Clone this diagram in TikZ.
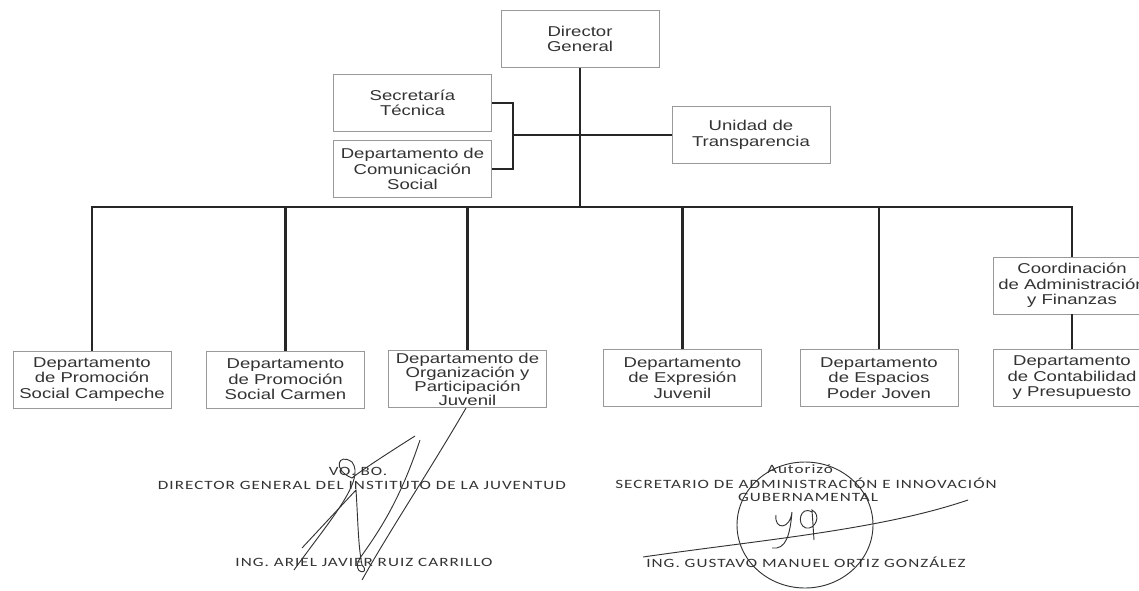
\documentclass[tikz,border=0pt]{standalone}
\usepackage{fontspec}
\setmainfont{Liberation Sans}[FakeStretch=1.3]
\newfontfamily\signfont{Carlito}[FakeStretch=1.35,LetterSpace=8]

\begin{document}
\begin{tikzpicture}[x=0.75pt, y=-0.75pt,
	unit/.style={draw=black!40, line width=0.6pt, fill=white, minimum width=118.5pt, minimum height=42.75pt, inner sep=1pt, align=center, text=black!80, font=\fontsize{10.7}{11.6}\selectfont},
	link/.style={line width=2.2pt, draw=black!85},
	sign/.style={text=black!80, inner sep=0pt, font=\signfont\fontsize{9.5}{10}\selectfont},
	scrawl/.style={draw=black!80, line width=0.7pt}]
	% page 1139 x 590 px
	\useasboundingbox (0,0) rectangle (1139,590);

	% top
	\node[unit] (dg) at (580,39) {Director\\General};
	\node[unit] (sec) at (412.5,103) {Secretaría\\Técnica};
	\node[unit] (dcs) at (412.5,169) {Departamento de\\Comunicación\\Social};
	\node[unit] (ut) at (751,135) {Unidad de\\Transparencia};
	\coordinate (brk) at (513,135);
	\coordinate (busR) at (1072,207);

	% departments
	\node[unit] (d1) at (92,379.5) {Departamento\\de Promoción\\Social Campeche};
	\node[unit] (d2) at (285.5,379.5) {Departamento\\de Promoción\\Social Carmen};
	\node[unit, font=\fontsize{10.7}{10.5}\selectfont] (d3) at (467.5,379) {Departamento de\\Organización y\\Participación\\Juvenil};
	\node[unit] (d4) at (682.5,378) {Departamento\\de Expresión\\Juvenil};
	\node[unit] (d5) at (879,378) {Departamento\\de Espacios\\Poder Joven};
	\node[unit] (caf) at (1072,285.5) {Coordinación\\de Administración\\y Finanzas};
	\node[unit] (dcp) at (1072,378) {Departamento\\de Contabilidad\\y Presupuesto};

	% connectors
	\draw[link] (dg.south) -- (dg.south |- busR);
	\draw[link] (sec.east) -| (brk) |- (dcs.east);
	\draw[link] (brk) -- (ut.west);
	\draw[link] (d1.north) |- (busR) -- (caf.north);
	\draw[link] (d2.north) -- (d2.north |- busR);
	\draw[link] (d3.north) -- (d3.north |- busR);
	\draw[link] (d4.north) -- (d4.north |- busR);
	\draw[link] (d5.north) -- (d5.north |- busR);
	\draw[link] (caf.south) -- (dcp.north);

	% signatures
	\node[sign] (vobo) at (358,471) {VO. BO.};
	\node[sign] (dirgen) at (362,485) {DIRECTOR GENERAL DEL INSTITUTO DE LA JUVENTUD};
	\node[sign] (ingariel) at (364,562) {ING. ARIEL JAVIER RUIZ CARRILLO};
	\node[sign] (autorizo) at (800,469) {Autorizó};
	\node[sign] (secadm) at (806,483) {SECRETARIO DE ADMINISTRACIÓN E INNOVACIÓN};
	\node[sign] (guber) at (808,497) {GUBERNAMENTAL};
	\node[sign] (inggus) at (806,562) {ING. GUSTAVO MANUEL ORTIZ GONZÁLEZ};

	\draw[scrawl] (466,408) .. controls (430,470) and (390,530) .. (362,580);
	\draw[scrawl] (415,436) .. controls (385,455) and (362,470) .. (352,478) .. controls (332,470) and (338,452) .. (352,462) .. controls (366,480) and (330,520) .. (294,570);
	\draw[scrawl] (302,548) -- (356,490) .. controls (358,520) and (358,545) .. (362,565) .. controls (372,575) and (350,575) .. (360,558) .. controls (380,530) and (400,500) .. (420,440);
	\draw[scrawl] (805,525) ellipse [x radius=68, y radius=63];
	\draw[scrawl] (643,557) .. controls (760,540) and (880,530) .. (968,500);
	\draw[scrawl] (776,515) .. controls (774,530) and (790,530) .. (792,512) .. controls (790,535) and (786,550) .. (772,548);
	\draw[scrawl] (812,512) .. controls (800,505) and (796,525) .. (806,528) .. controls (815,530) and (822,515) .. (812,510) -- (814,540);
\end{tikzpicture}
\end{document}
